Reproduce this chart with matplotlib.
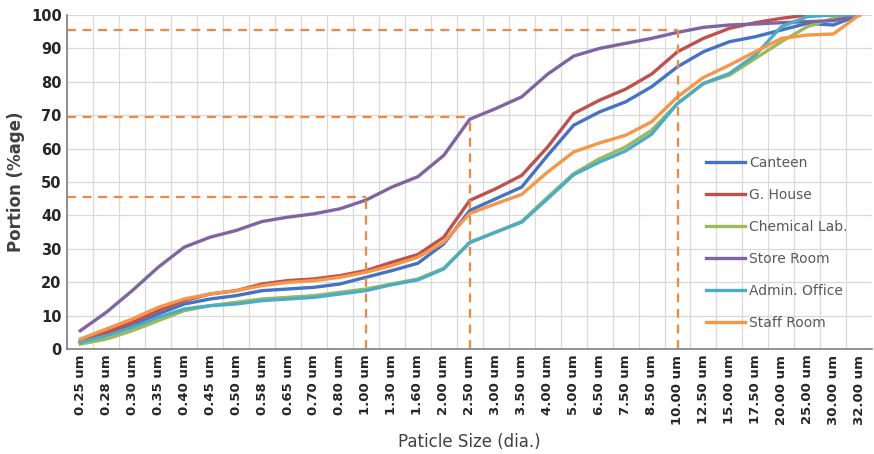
import matplotlib.pyplot as plt
import numpy as np

sizes = ["0.25", "0.28", "0.30", "0.35", "0.40", "0.45", "0.50", "0.58", "0.65", "0.70",
         "0.80", "1.00", "1.30", "1.60", "2.00", "2.50", "3.00", "3.50", "4.00", "5.00",
         "6.50", "7.50", "8.50", "10.00", "12.50", "15.00", "17.50", "20.00", "25.00",
         "30.00", "32.00"]

canteen = [2, 4.5, 7, 10.5, 13.5, 15, 16, 17.5, 18, 18.5, 19.5, 21.5, 23.5, 25.7, 31.5,
           41.5, 45, 48.5, 58, 67, 71, 74, 78.5, 84.5, 89, 92, 93.5, 95.5, 97.5, 97, 100]
g_house = [2.5, 5, 8, 11.5, 14.5, 16.5, 17.5, 19.5, 20.5, 21, 22, 23.5, 26, 28.3, 33.5,
           44.5, 48, 52, 60.5, 70.5, 74.5, 77.8, 82.3, 89, 93, 96, 97.7, 99, 100, 100, 100]
chem_lab = [1.5, 3, 5.5, 8.5, 11.5, 13, 14, 15, 15.5, 16, 17, 18, 19.5, 21, 24.2,
            31.8, 35, 38.2, 45.5, 52.5, 57, 60.5, 65.5, 73.5, 79.5, 82, 87, 92, 96.5, 99, 100]
store_room = [5.5, 11, 17.5, 24.5, 30.5, 33.5, 35.5, 38.2, 39.5, 40.5, 42, 44.6, 48.5, 51.6, 58,
              68.8, 72, 75.5, 82.3, 87.7, 90, 91.5, 93, 94.8, 96.3, 97, 97.3, 97.7, 98, 98.3, 100]
admin_office = [2, 4, 6.5, 9.5, 12, 13, 13.5, 14.5, 15, 15.5, 16.5, 17.5, 19.3, 20.7, 24,
                32, 35, 38, 45, 52.2, 56, 59.3, 64.3, 73.5, 79.5, 82.5, 88, 96.5, 99.5, 100, 100]
staff_room = [3, 6, 9, 12.5, 15, 16.5, 17.5, 19, 20, 20.5, 21.5, 23, 25, 27.5, 32,
              40.6, 43.5, 46.3, 53, 59, 61.7, 64, 68, 75.5, 81.3, 85, 89, 93, 94, 94.3, 100]

series = [("Canteen", canteen, "#4472C4"),
          ("G. House", g_house, "#C0504D"),
          ("Chemical Lab.", chem_lab, "#9BBB59"),
          ("Store Room", store_room, "#8064A2"),
          ("Admin. Office", admin_office, "#4BACC6"),
          ("Staff Room", staff_room, "#F79646")]

# reference marks: (category, level)
marks = [("1.00", 45.5), ("2.50", 69.5), ("10.00", 95.5)]

fig = plt.figure(figsize=(8.74, 4.54), dpi=100)
ax = fig.add_axes([0.077, 0.231, 0.921, 0.736])

x = np.arange(len(sizes))
for name, vals, col in series:
    ax.plot(x, vals, color=col, lw=2.4, label=name, solid_joinstyle="round")

dash_col = "#F0883E"
for cat, lvl in marks:
    xi = sizes.index(cat)
    ax.plot([-0.5, xi], [lvl, lvl], color=dash_col, lw=1.6, ls=(0, (4, 3)))
    ax.plot([xi, xi], [0, lvl], color=dash_col, lw=1.6, ls=(0, (4, 3)))

ax.set_xlim(-0.5, len(sizes) - 0.5)
ax.set_ylim(0, 100)
ax.set_yticks(range(0, 101, 10))
ax.set_xticks(x)
ax.set_xticklabels([s + " um" for s in sizes], rotation=90, fontsize=9.5,
                   fontweight="bold", color="#262626")
ax.set_xticks(np.arange(-0.5, len(sizes), 1), minor=True)
for lab in ax.get_yticklabels():
    lab.set_fontweight("bold")
    lab.set_fontsize(10.5)
    lab.set_color("#262626")
ax.tick_params(axis="both", which="both", length=0, pad=4)
ax.grid(True, axis="y", color="#D9D9D9", lw=0.9)
ax.grid(True, axis="x", which="minor", color="#D9D9D9", lw=0.9)
ax.set_axisbelow(True)
for s in ["top", "right"]:
    ax.spines[s].set_visible(False)
for s in ["left", "bottom"]:
    ax.spines[s].set_color("#808080")
    ax.spines[s].set_linewidth(1.2)

ax.set_ylabel("Portion (%age)", fontsize=12, fontweight="bold", color="#404040")
ax.set_xlabel("Paticle Size (dia.)", fontsize=12, color="#404040", labelpad=6)

ax.legend(loc="center left", bbox_to_anchor=(0.778, 0.317), frameon=False, fontsize=10,
          handlelength=2.8, handletextpad=0.3, labelspacing=1.3, labelcolor="#595959")

fig.savefig("out.png", dpi=100)
